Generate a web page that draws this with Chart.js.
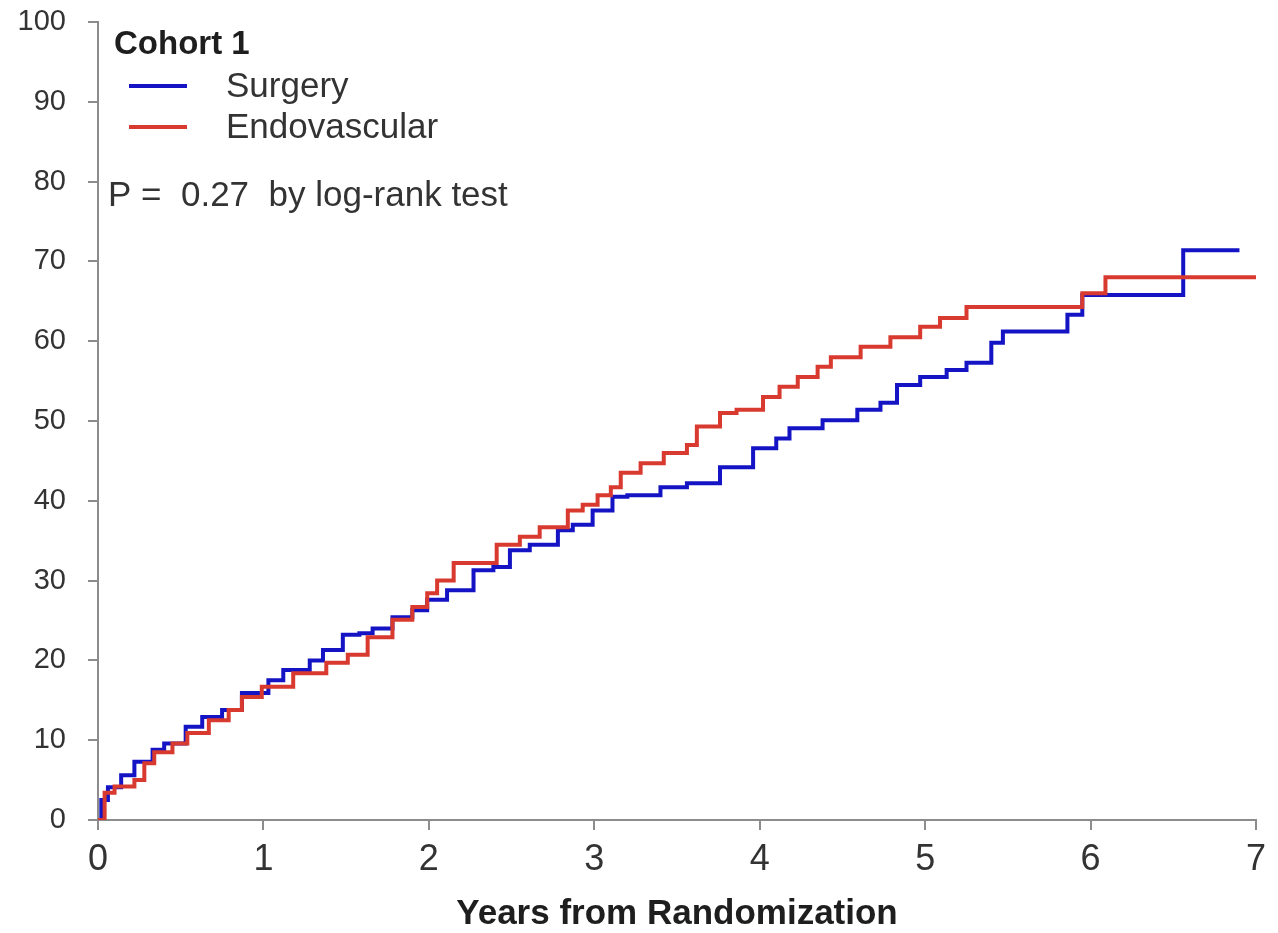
<!DOCTYPE html>
<html>
<head>
<meta charset="utf-8">
<title>Cohort 1 - Surgery vs Endovascular</title>
<script src="https://cdn.jsdelivr.net/npm/chart.js@4.4.1/dist/chart.umd.min.js"></script>
<style>
  html, body { margin: 0; padding: 0; background: #fff; }
  #wrap { width: 1278px; height: 933px; }
</style>
</head>
<body>
<div id="wrap"><canvas id="km" width="1278" height="933"></canvas></div>
<script>
// ------------------------
// DATA
// ------------------------
const xTicks = [0, 1, 2, 3, 4, 5, 6, 7];
const yTicks = [0, 10, 20, 30, 40, 50, 60, 70, 80, 90, 100];

// Surgery (blue) - years / cumulative %
const surgeryYears = [0, 0.02, 0.06, 0.14, 0.22, 0.33, 0.40, 0.53, 0.63, 0.75, 0.87, 1.03, 1.12, 1.28, 1.36,
  1.48, 1.58, 1.66, 1.78, 1.90, 1.99, 2.11, 2.27, 2.39, 2.49, 2.61, 2.78, 2.87, 2.99, 3.11, 3.20, 3.40,
  3.56, 3.76, 3.96, 4.10, 4.18, 4.38, 4.59, 4.73, 4.83, 4.97, 5.13, 5.25, 5.40, 5.47, 5.86, 5.95, 6.56, 6.90];
const surgeryPct = [0, 2.5, 4.1, 5.6, 7.3, 8.8, 9.6, 11.7, 12.9, 13.8, 15.9, 17.5, 18.8, 20.0, 21.3,
  23.2, 23.4, 24.0, 25.4, 26.3, 27.6, 28.8, 31.3, 31.7, 33.8, 34.5, 36.3, 37.0, 38.8, 40.5, 40.7, 41.7,
  42.2, 44.2, 46.6, 47.8, 49.1, 50.1, 51.4, 52.3, 54.5, 55.5, 56.4, 57.3, 59.8, 61.2, 63.3, 65.8, 71.4, 71.4];

// Endovascular (red)
const endoYears = [0, 0.04, 0.10, 0.22, 0.28, 0.34, 0.45, 0.54, 0.67, 0.79, 0.87, 0.99, 1.18, 1.38, 1.51,
  1.63, 1.78, 1.90, 1.99, 2.05, 2.15, 2.41, 2.55, 2.67, 2.84, 2.93, 3.02, 3.10, 3.16, 3.28, 3.42, 3.56,
  3.62, 3.76, 3.86, 4.02, 4.12, 4.23, 4.35, 4.43, 4.61, 4.79, 4.97, 5.09, 5.25, 5.95, 6.09, 7.00];
const endoPct = [0, 3.4, 4.2, 5.0, 7.1, 8.5, 9.6, 10.9, 12.5, 13.8, 15.4, 16.7, 18.4, 19.7, 20.7,
  22.9, 25.1, 26.7, 28.4, 30.0, 32.2, 34.5, 35.5, 36.7, 38.8, 39.5, 40.7, 41.7, 43.5, 44.7, 46.0, 47.0,
  49.3, 51.0, 51.4, 53.0, 54.3, 55.5, 56.8, 58.0, 59.3, 60.5, 61.8, 62.9, 64.3, 66.0, 68.0, 68.0];

const BLUE = '#1414c4';
const RED = '#d93a30';
const AXIS = '#8c8c8c';
const FONT = "'Liberation Sans', Arial, Helvetica, sans-serif";

const toPoints = (xs, ys) => xs.map((x, i) => ({ x, y: ys[i] }));

// ------------------------
// LEGEND / ANNOTATION (drawn inside the plot)
// ------------------------
const legendBox = {
  id: 'legendBox',
  afterDraw(chart) {
    const ctx = chart.ctx;
    ctx.save();
    ctx.textBaseline = 'middle';
    ctx.textAlign = 'left';
    ctx.fillStyle = '#1e1e1e';
    ctx.font = "bold 33px " + FONT;
    ctx.fillText('Cohort 1', 114, 45);

    ctx.lineWidth = 4;
    ctx.strokeStyle = BLUE;
    ctx.beginPath(); ctx.moveTo(129, 86); ctx.lineTo(187, 86); ctx.stroke();
    ctx.strokeStyle = RED;
    ctx.beginPath(); ctx.moveTo(129, 127); ctx.lineTo(187, 127); ctx.stroke();

    ctx.fillStyle = '#333';
    ctx.font = "35px " + FONT;
    ctx.fillText('Surgery', 226, 87);
    ctx.fillText('Endovascular', 226, 128);
    ctx.fillText('P =  0.27  by log-rank test', 108, 196);
    ctx.restore();
  }
};

// ------------------------
// CHART
// ------------------------
const ctx = document.getElementById('km').getContext('2d');
new Chart(ctx, {
  type: 'scatter',
  data: {
    datasets: [
      {
        label: 'Surgery',
        data: toPoints(surgeryYears, surgeryPct),
        showLine: true, stepped: true,
        borderColor: BLUE, borderWidth: 4,
        pointRadius: 0, fill: false, order: 1
      },
      {
        label: 'Endovascular',
        data: toPoints(endoYears, endoPct),
        showLine: true, stepped: true,
        borderColor: RED, borderWidth: 4,
        pointRadius: 0, fill: false, order: 0
      }
    ]
  },
  options: {
    responsive: false,
    animation: false,
    layout: { padding: { left: 0, right: 22, top: 22, bottom: 0 } },
    plugins: { legend: { display: false }, tooltip: { enabled: false } },
    scales: {
      x: {
        type: 'linear', min: 0, max: 7,
        afterBuildTicks: s => { s.ticks = xTicks.map(v => ({ value: v })); },
        afterFit: s => { s.height = 113; s.paddingLeft = 0; s.paddingRight = 0; },
        grid: { drawOnChartArea: false, drawTicks: true, tickLength: 10, color: AXIS, lineWidth: 2 },
        border: { display: true, color: AXIS, width: 2 },
        ticks: { color: '#333', padding: 8, maxRotation: 0, font: { family: FONT, size: 36 } },
        title: {
          display: true, text: 'Years from Randomization', color: '#1e1e1e',
          font: { family: FONT, size: 35, weight: 'bold', lineHeight: 1 },
          padding: { top: 0, bottom: 1 }
        }
      },
      y: {
        type: 'linear', min: 0, max: 100,
        afterBuildTicks: s => { s.ticks = yTicks.map(v => ({ value: v })); },
        afterFit: s => { s.width = 98; s.paddingTop = 0; s.paddingBottom = 0; },
        grid: { drawOnChartArea: false, drawTicks: true, tickLength: 10, color: AXIS, lineWidth: 2 },
        border: { display: true, color: AXIS, width: 2 },
        ticks: { color: '#333', padding: 22, font: { family: FONT, size: 29 } }
      }
    }
  },
  plugins: [legendBox]
});
</script>
</body>
</html>
